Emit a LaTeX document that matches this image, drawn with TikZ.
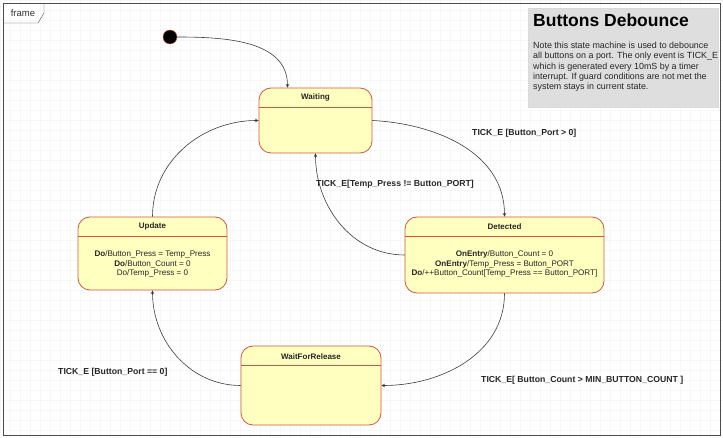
\documentclass[tikz,border=0pt]{standalone}
\usepackage{fontspec}
\setmainfont{Liberation Sans}
\usetikzlibrary{arrows}
\definecolor{stfill}{RGB}{255,255,192}
\definecolor{stline}{RGB}{208,88,66}
\definecolor{notefill}{RGB}{222,222,222}
\definecolor{wire}{RGB}{60,60,60}
\tikzstyle{arrow} = [semithick,->,>=stealth,wire]
\tikzstyle{state} = [draw=stline,fill=stfill,line width=0.8pt,rounded corners=12pt,inner sep=0pt]
\tikzstyle{stitle} = [font=\fontsize{8}{9}\selectfont\bfseries,text=black!85]
\tikzstyle{sbody} = [font=\fontsize{8.1}{9.5}\selectfont,text=black!85,align=center,inner sep=0pt]
\tikzstyle{guard} = [font=\fontsize{8.7}{10}\selectfont\bfseries,text=black!85,anchor=west,inner sep=0pt]

\begin{document}
\begin{tikzpicture}[x=1pt,y=-1pt]
	\useasboundingbox (0,0) rectangle (723,438);
	\fill[white] (0,0) rectangle (723,438);
	\draw[step=10pt,black!3,very thin] (0,0) grid (723,438);

	% frame
	\draw[black!70,thin] (3,3) rectangle (720,435);
	\draw[black!70,thin] (3,23) -- (38,23) -- (44,13) -- (44,3);
	\node[font=\fontsize{9.5}{11}\selectfont,text=black!80] (frametag) at (23,13) {frame};

	% note
	\node[fill=notefill,draw=black!15,minimum width=190pt,minimum height=99pt] (note) at (623,57.5) {};
	\node[anchor=west,font=\fontsize{17.5}{20}\selectfont\bfseries,inner sep=0pt] (notetitle) at (533,20) {Buttons Debounce};
	\node[anchor=north west,align=left,font=\fontsize{8.9}{10.2}\selectfont,text=black!85,inner sep=0pt] (notetext) at (533,42)
		{Note this state machine is used to debounce\\all buttons on a port. The only event is TICK\_E\\which is generated every 10mS by a timer\\interrupt. If guard conditions are not met the\\system stays in current state.};

	% states
	\node[circle,fill=black,draw=stline,minimum size=14pt,inner sep=0pt] (init) at (170,37) {};

	\node[state,minimum width=113pt,minimum height=65pt] (waiting) at (315.5,120.5) {};
	\node[stitle] (waitingname) at ([yshift=-10pt]waiting.north) {Waiting};
	\draw[stline,line width=0.8pt] ([yshift=-20pt]waiting.north west) -- ([yshift=-20pt]waiting.north east);

	\node[state,minimum width=199pt,minimum height=76pt] (detected) at (504.5,255) {};
	\node[stitle] (detectedname) at ([yshift=-10pt]detected.north) {Detected};
	\draw[stline,line width=0.8pt] ([yshift=-20pt]detected.north west) -- ([yshift=-20pt]detected.north east);
	\node[sbody] (detectedbody) at (504.5,264)
		{\textbf{OnEntry}/Button\_Count = 0\\\textbf{OnEntry}/Temp\_Press = Button\_PORT\\\textbf{Do}/++Button\_Count[Temp\_Press == Button\_PORT]};

	\node[state,minimum width=149pt,minimum height=73pt] (update) at (152.5,253.5) {};
	\node[stitle] (updatename) at ([yshift=-10pt]update.north) {Update};
	\draw[stline,line width=0.8pt] ([yshift=-20pt]update.north west) -- ([yshift=-20pt]update.north east);
	\node[sbody] (updatebody) at (152.5,264)
		{\textbf{Do}/Button\_Press = Temp\_Press\\\textbf{Do}/Button\_Count = 0\\Do/Temp\_Press = 0};

	\node[state,minimum width=140pt,minimum height=79pt] (release) at (311,385.5) {};
	\node[stitle] (releasename) at ([yshift=-11pt]release.north) {WaitForRelease};
	\draw[stline,line width=0.8pt] ([yshift=-20pt]release.north west) -- ([yshift=-20pt]release.north east);

	% transitions
	\draw [arrow] (init) to[out=0,in=90] ([xshift=-28pt]waiting.north);
	\draw [arrow] (waiting.east) to[out=-3,in=90] (detected.north);
	\draw [arrow] (detected.west) to[out=180,in=-90] (waiting.south);
	\draw [arrow] (detected.south) to[out=-90,in=0] (release.east);
	\draw [arrow] (release.west) to[out=180,in=-90] (update.south);
	\draw [arrow] (update.north) to[out=90,in=180] (waiting.west);

	% guards
	\node[guard] (tickport) at (472,133) {TICK\_E [Button\_Port > 0]};
	\node[guard] (tickchange) at (316,184) {TICK\_E[Temp\_Press != Button\_PORT]};
	\node[guard] (tickcount) at (481,380) {TICK\_E[ Button\_Count > MIN\_BUTTON\_COUNT ]};
	\node[guard] (tickzero) at (58,372) {TICK\_E [Button\_Port == 0]};
\end{tikzpicture}
\end{document}
